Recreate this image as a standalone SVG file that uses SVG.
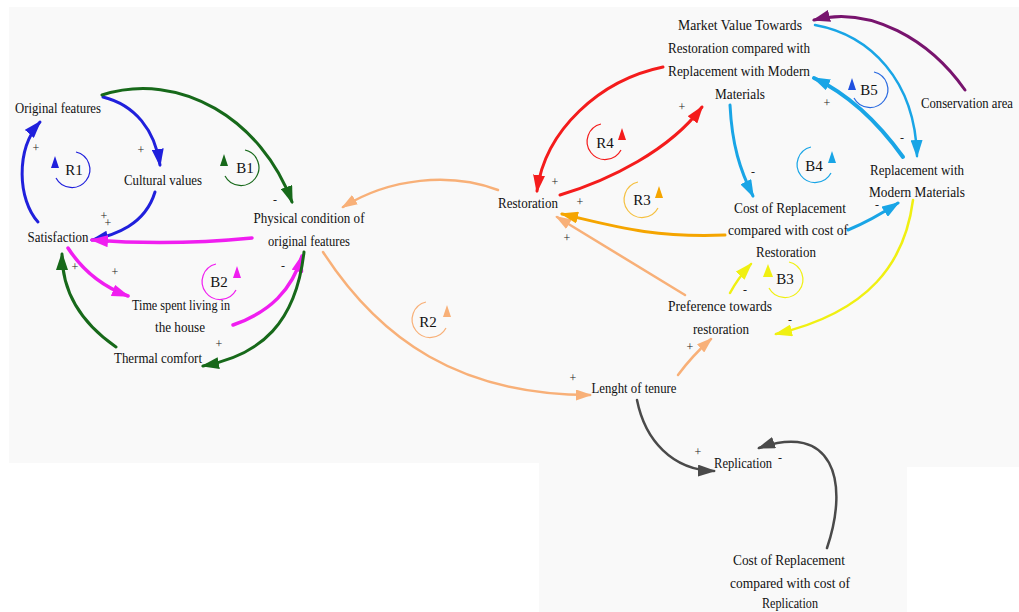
<svg xmlns="http://www.w3.org/2000/svg" width="1019" height="612" viewBox="0 0 1019 612">
<style>
.t{font-family:"Liberation Serif","DejaVu Serif",serif;font-size:15px;fill:#111;text-anchor:middle}
.s{font-family:"Liberation Serif","DejaVu Serif",serif;font-size:12px;fill:#222;text-anchor:middle}
.c{fill:none;stroke-linecap:round}
.lp{fill:none;stroke-width:1.2}
</style>
<defs>
<marker id="mBlue" markerUnits="userSpaceOnUse" markerWidth="18" markerHeight="12" refX="16" refY="6" orient="auto"><path d="M0,0 L18,6 L0,12 z" fill="#2020dc"/></marker>
<marker id="mGreen" markerUnits="userSpaceOnUse" markerWidth="18" markerHeight="12" refX="16" refY="6" orient="auto"><path d="M0,0 L18,6 L0,12 z" fill="#17691a"/></marker>
<marker id="mMag" markerUnits="userSpaceOnUse" markerWidth="18" markerHeight="12" refX="16" refY="6" orient="auto"><path d="M0,0 L18,6 L0,12 z" fill="#f01ef0"/></marker>
<marker id="mLor" markerUnits="userSpaceOnUse" markerWidth="16" markerHeight="11" refX="14" refY="5.5" orient="auto"><path d="M0,0 L16,5.5 L0,11 z" fill="#f8b078"/></marker>
<marker id="mGold" markerUnits="userSpaceOnUse" markerWidth="18" markerHeight="12" refX="16" refY="6" orient="auto"><path d="M0,0 L18,6 L0,12 z" fill="#f5a500"/></marker>
<marker id="mRed" markerUnits="userSpaceOnUse" markerWidth="18" markerHeight="12" refX="16" refY="6" orient="auto"><path d="M0,0 L18,6 L0,12 z" fill="#f41c1c"/></marker>
<marker id="mLb" markerUnits="userSpaceOnUse" markerWidth="18" markerHeight="12" refX="16" refY="6" orient="auto"><path d="M0,0 L18,6 L0,12 z" fill="#19a5e6"/></marker>
<marker id="mPur" markerUnits="userSpaceOnUse" markerWidth="18" markerHeight="12" refX="16" refY="6" orient="auto"><path d="M0,0 L18,6 L0,12 z" fill="#78146e"/></marker>
<marker id="mYel" markerUnits="userSpaceOnUse" markerWidth="18" markerHeight="12" refX="16" refY="6" orient="auto"><path d="M0,0 L18,6 L0,12 z" fill="#f0f012"/></marker>
<marker id="mGray" markerUnits="userSpaceOnUse" markerWidth="18" markerHeight="12" refX="16" refY="6" orient="auto"><path d="M0,0 L18,6 L0,12 z" fill="#4a4a4a"/></marker>
</defs>
<rect width="1019" height="612" fill="#ffffff"/>
<path d="M9,7 H1019 V467 H907 V612 H539 V463 H9 Z" fill="#f9f9f9"/>

<g id="connectors">
<path class="c" d="M38,222 C18,200 15,150 40,122" stroke="#2020dc" stroke-width="3" marker-end="url(#mBlue)"/>
<path class="c" d="M103,97 C135,105 155,130 160,165" stroke="#2020dc" stroke-width="3" marker-end="url(#mBlue)"/>
<path class="c" d="M155,192 C145,225 115,235 92,240" stroke="#2020dc" stroke-width="3" marker-end="url(#mBlue)"/>
<path class="c" d="M102,95 C180,70 262,120 292,202" stroke="#17691a" stroke-width="3" marker-end="url(#mGreen)"/>
<path class="c" d="M252,238 Q170,246 92,240" stroke="#f01ef0" stroke-width="3.5" marker-end="url(#mMag)"/>
<path class="c" d="M68,248 Q90,282 128,296" stroke="#f01ef0" stroke-width="3.5" marker-end="url(#mMag)"/>
<path class="c" d="M233,325 C270,312 292,290 302,256" stroke="#f01ef0" stroke-width="3.5" marker-end="url(#mMag)"/>
<path class="c" d="M304,252 C296,322 262,355 203,366" stroke="#17691a" stroke-width="3" marker-end="url(#mGreen)"/>
<path class="c" d="M116,347 C80,322 62,292 62,254" stroke="#17691a" stroke-width="3" marker-end="url(#mGreen)"/>
<path class="c" d="M498,190 C450,172 390,178 343,207" stroke="#f8b078" stroke-width="2.5" marker-end="url(#mLor)"/>
<path class="c" d="M323,252 C380,340 460,395 590,395" stroke="#f8b078" stroke-width="2.5" marker-end="url(#mLor)"/>
<path class="c" d="M678,375 Q692,356 711,339" stroke="#f8b078" stroke-width="2.5" marker-end="url(#mLor)"/>
<path class="c" d="M685,295 L557,217" stroke="#f8b078" stroke-width="2.5" marker-end="url(#mLor)"/>
<path class="c" d="M725,235 C650,238 610,225 562,214" stroke="#f5a500" stroke-width="3" marker-end="url(#mGold)"/>
<path class="c" d="M663,67 C600,80 545,130 537,191" stroke="#f41c1c" stroke-width="3" marker-end="url(#mRed)"/>
<path class="c" d="M560,195 C610,180 670,150 702,107" stroke="#f41c1c" stroke-width="3" marker-end="url(#mRed)"/>
<path class="c" d="M730,105 C732,145 740,170 753,196" stroke="#19a5e6" stroke-width="3" marker-end="url(#mLb)"/>
<path class="c" d="M848,230 Q872,220 898,203" stroke="#19a5e6" stroke-width="3" marker-end="url(#mLb)"/>
<path class="c" d="M903,157 C880,125 850,95 814,78" stroke="#19a5e6" stroke-width="4" marker-end="url(#mLb)"/>
<path class="c" d="M815,25 C870,35 915,80 917,156" stroke="#19a5e6" stroke-width="2.5" marker-end="url(#mLb)"/>
<path class="c" d="M965,90 C930,40 870,5 814,20" stroke="#78146e" stroke-width="3" marker-end="url(#mPur)"/>
<path class="c" d="M913,200 C905,262 870,312 776,334" stroke="#f0f012" stroke-width="2.5" marker-end="url(#mYel)"/>
<path class="c" d="M730,293 Q738,278 751,264" stroke="#f0f012" stroke-width="2.5" marker-end="url(#mYel)"/>
<path class="c" d="M637,400 C645,440 672,470 714,471" stroke="#4a4a4a" stroke-width="2.5" marker-end="url(#mGray)"/>
<path class="c" d="M827,548 C850,480 832,422 759,448" stroke="#4a4a4a" stroke-width="2.5" marker-end="url(#mGray)"/>
</g>

<g id="polarities">
<text class="s" x="36" y="152">+</text>
<text class="s" x="141" y="154">+</text>
<text class="s" x="104" y="220">+</text>
<text class="s" x="108" y="227">+</text>
<text class="s" x="275" y="204">-</text>
<text class="s" x="75" y="271">+</text>
<text class="s" x="115" y="276">+</text>
<text class="s" x="283" y="270">-</text>
<text class="s" x="219" y="348">+</text>
<text class="s" x="573" y="382">+</text>
<text class="s" x="555" y="186">+</text>
<text class="s" x="580" y="206">+</text>
<text class="s" x="567" y="242">+</text>
<text class="s" x="682" y="111">+</text>
<text class="s" x="753" y="176">-</text>
<text class="s" x="827" y="107">+</text>
<text class="s" x="902" y="142">-</text>
<text class="s" x="877" y="209">-</text>
<text class="s" x="745" y="294">-</text>
<text class="s" x="790" y="324">-</text>
<text class="s" x="690" y="351">+</text>
<text class="s" x="698" y="456">+</text>
</g>

<g id="loops">
<g id="loop-R1"><path class="lp" stroke="#2020dc" d="M76,152 A18,18 0 1 1 56,178"/><polygon points="55,156 51,168 59,168" fill="#2020dc"/><text class="t" x="74" y="175">R1</text></g>
<g id="loop-B1"><path class="lp" stroke="#17691a" d="M245,150 A18,18 0 1 1 225,176"/><polygon points="224,154 220,166 228,166" fill="#17691a"/><text class="t" x="245" y="173">B1</text></g>
<g id="loop-B2"><path class="lp" stroke="#f01ef0" d="M216,264 A18,18 0 1 0 236,290"/><polygon points="237,266 233,278 241,278" fill="#f01ef0"/><text class="t" x="219" y="287">B2</text></g>
<g id="loop-R2"><path class="lp" stroke="#f8b078" d="M426,302 A18,18 0 1 0 446,328"/><polygon points="447,305 443,317 451,317" fill="#f8b078"/><text class="t" x="428" y="327">R2</text></g>
<g id="loop-R4"><path class="lp" stroke="#f41c1c" d="M601,124 A18,18 0 1 0 621,150"/><polygon points="622,128 618,140 626,140" fill="#f41c1c"/><text class="t" x="605" y="148">R4</text></g>
<g id="loop-R3"><path class="lp" stroke="#f5c040" d="M638,182 A18,18 0 1 0 658,208"/><polygon points="659,186 655,198 663,198" fill="#f5a500"/><text class="t" x="642" y="205">R3</text></g>
<g id="loop-B4"><path class="lp" stroke="#19a5e6" d="M811,147 A18,18 0 1 0 831,173"/><polygon points="832,151 828,163 836,163" fill="#19a5e6"/><text class="t" x="814" y="171">B4</text></g>
<g id="loop-B3"><path class="lp" stroke="#f0f012" d="M789,262 A18,18 0 1 1 769,288"/><polygon points="768,264 763,277 773,277" fill="#f0f012"/><text class="t" x="785" y="284">B3</text></g>
<g id="loop-B5"><path class="lp" stroke="#2a6ae0" d="M874,72 A18,18 0 1 1 854,98"/><polygon points="852,78 848,90 856,90" fill="#2050e0"/><text class="t" x="869" y="95">B5</text></g>
</g>

<g id="n-original-features"><text class="t" x="58" y="113" textLength="86" lengthAdjust="spacingAndGlyphs">Original features</text></g>
<g id="n-cultural-values"><text class="t" x="163" y="185" textLength="78" lengthAdjust="spacingAndGlyphs">Cultural values</text></g>
<g id="n-satisfaction"><text class="t" x="58" y="242" textLength="61" lengthAdjust="spacingAndGlyphs">Satisfaction</text></g>
<g id="n-physical-condition"><text class="t" x="309" y="223" textLength="111" lengthAdjust="spacingAndGlyphs">Physical condition of</text><text class="t" x="309" y="246" textLength="82" lengthAdjust="spacingAndGlyphs">original features</text></g>
<g id="n-time-spent"><text class="t" x="181" y="310" textLength="98" lengthAdjust="spacingAndGlyphs">Time spent living in</text><text class="t" x="180" y="332" textLength="50" lengthAdjust="spacingAndGlyphs">the house</text></g>
<g id="n-thermal-comfort"><text class="t" x="158" y="363" textLength="88" lengthAdjust="spacingAndGlyphs">Thermal comfort</text></g>
<g id="n-restoration"><text class="t" x="528" y="208" textLength="60" lengthAdjust="spacingAndGlyphs">Restoration</text></g>
<g id="n-market-value"><text class="t" x="740" y="30" textLength="124" lengthAdjust="spacingAndGlyphs">Market Value Towards</text><text class="t" x="739" y="53" textLength="142" lengthAdjust="spacingAndGlyphs">Restoration compared with</text><text class="t" x="739" y="76" textLength="142" lengthAdjust="spacingAndGlyphs">Replacement with Modern</text><text class="t" x="740" y="99" textLength="50" lengthAdjust="spacingAndGlyphs">Materials</text></g>
<g id="n-conservation-area"><text class="t" x="921" y="108" style="text-anchor:start" textLength="92" lengthAdjust="spacingAndGlyphs">Conservation area</text></g>
<g id="n-replacement"><text class="t" x="917" y="175" textLength="94" lengthAdjust="spacingAndGlyphs">Replacement with</text><text class="t" x="917" y="197" textLength="96" lengthAdjust="spacingAndGlyphs">Modern Materials</text></g>
<g id="n-cost-restoration"><text class="t" x="790" y="213" textLength="112" lengthAdjust="spacingAndGlyphs">Cost of Replacement</text><text class="t" x="788" y="235" textLength="120" lengthAdjust="spacingAndGlyphs">compared with cost of</text><text class="t" x="786" y="257" textLength="60" lengthAdjust="spacingAndGlyphs">Restoration</text></g>
<g id="n-preference"><text class="t" x="720" y="311" textLength="104" lengthAdjust="spacingAndGlyphs">Preference towards</text><text class="t" x="721" y="334" textLength="56" lengthAdjust="spacingAndGlyphs">restoration</text></g>
<g id="n-tenure"><text class="t" x="634" y="393" textLength="85" lengthAdjust="spacingAndGlyphs">Lenght of tenure</text></g>
<g id="n-replication"><text class="t" x="743" y="468" textLength="58" lengthAdjust="spacingAndGlyphs">Replication</text><text class="s" x="780" y="462">-</text></g>
<g id="n-cost-replication"><text class="t" x="789" y="565" textLength="112" lengthAdjust="spacingAndGlyphs">Cost of Replacement</text><text class="t" x="790" y="588" textLength="120" lengthAdjust="spacingAndGlyphs">compared with cost of</text><text class="t" x="790" y="608" textLength="56" lengthAdjust="spacingAndGlyphs">Replication</text></g>
</svg>
